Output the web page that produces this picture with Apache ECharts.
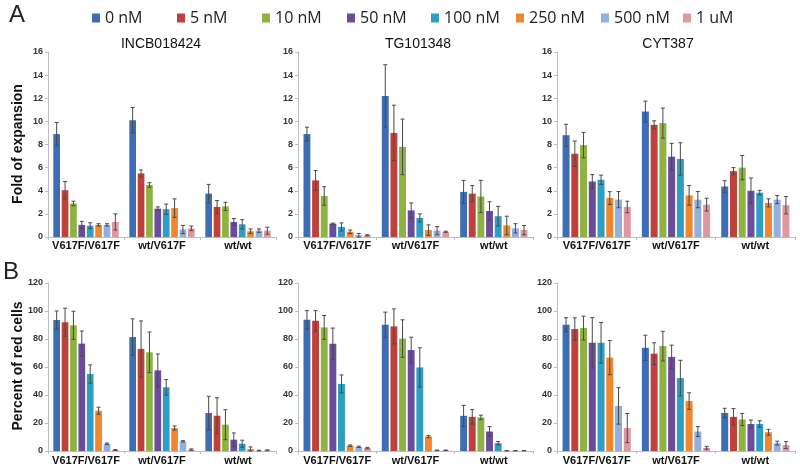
<!DOCTYPE html>
<html><head><meta charset="utf-8">
<script src="https://cdn.jsdelivr.net/npm/echarts@6/dist/echarts.min.js"></script>
<style>html,body{margin:0;padding:0;background:#fff}#c{width:800px;height:474px}</style>
</head><body><div id="c"></div>
<script>
const categories = ['V617F/V617F', 'wt/V617F', 'wt/wt'];
const seriesNames = ['0 nM', '5 nM', '10 nM', '50 nM', '100 nM', '250 nM', '500 nM', '1 uM'];
const drugs = ['INCB018424', 'TG101348', 'CYT387'];
const foldTicks = {min: 0, max: 16, interval: 2};
const redTicks = {min: 0, max: 120, interval: 20};

// rows = series (0 nM ... 1 uM), columns = categories
const foldINCB = [[8.9,10.1,3.75],[4.05,5.5,2.6],[2.9,4.5,2.65],[1.05,2.45,1.3],[0.98,2.4,1.1],[1.05,2.5,0.5],[1.05,0.65,0.55],[1.3,0.75,0.55]];
const foldINCBErr = [[1.0,1.1,0.8],[0.75,0.3,0.55],[0.2,0.2,0.35],[0.3,0.15,0.3],[0.25,0.45,0.4],[0.1,0.8,0.2],[0.1,0.35,0.15],[0.7,0.2,0.3]];
const foldTG = [[8.9,12.2,3.9],[4.9,9.0,3.75],[3.55,7.8,3.5],[1.15,2.3,2.25],[0.87,1.65,1.8],[0.45,0.6,1.0],[0.15,0.55,0.75],[0.15,0.45,0.6]];
const foldTGErr = [[0.6,2.7,1.0],[0.85,2.4,0.7],[0.8,2.4,1.4],[0.05,0.65,0.8],[0.35,0.35,0.85],[0.15,0.45,0.8],[0.15,0.35,0.4],[0.05,0.05,0.4]];
const foldCYT = [[8.8,10.85,4.37],[7.2,9.7,5.7],[7.95,9.85,6.0],[4.8,6.95,4.0],[4.95,6.75,3.83],[3.37,3.6,2.95],[3.23,3.23,3.23],[2.6,2.8,2.75]];
const foldCYTErr = [[0.95,0.9,0.5],[1.1,0.35,0.3],[1.1,1.3,1.05],[0.6,1.15,1.1],[0.4,1.4,0.2],[0.55,0.85,0.35],[0.7,0.7,0.35],[0.5,0.55,0.75]];
const redINCB = [[93.5,81.4,27.1],[92,72.9,25.2],[89.8,70.5,18.8],[76.7,57.6,8.1],[55,45.5,5.2],[28.8,16.4,1.4],[5.2,6.9,0.3],[0.7,1.0,0.5]];
const redINCBErr = [[6.5,13,12],[10,20,12.8],[10,14.5,10.7],[9,11.7,4.8],[6.5,5.5,2.5],[2.5,1.5,1.5],[0.5,0.5,0.2],[0.3,0.5,0.3]];
const redTG = [[93.7,90.2,25.1],[93,89,24.4],[88.3,80.3,24],[76.6,72.1,13.9],[47.9,59.7,5.6],[3.8,10.3,0.2],[3.0,0.5,0.2],[2.1,0.5,0.2]];
const redTGErr = [[6.6,9,7.5],[7.3,12.5,5.2],[8.5,13.4,1.6],[11.2,9.2,3.5],[6.4,14,1.2],[0.5,0.7,0.1],[0.5,0.2,0.1],[0.5,0.2,0.1]];
const redCYT = [[90.2,73.7,27.2],[87.1,69.5,24.4],[87.8,74.9,22.5],[77.3,67.2,19.3],[77.3,52.1,19.3],[66.7,35.7,13.4],[32.2,13.9,5.6],[16.4,2.3,4.2]];
const redCYTErr = [[5,9,3.3],[8,7.8,5.9],[8.5,10.6,4.3],[18,8.4,2.8],[14.5,12.7,2.3],[12.2,5.9,2.1],[13,3.5,1.4],[10.4,1,2.5]];

const colors = ['#3d6db5','#c0403c','#8db342','#6b4c9a','#2e9fc2','#f0872e','#93afe0','#e0989f'];
const CAT_GAP = 0.14, BAR_GAP = 0.25;

const panels = [
  {vals: foldINCB, err: foldINCBErr, ticks: foldTicks, grid: {left:48, top:52, width:228, height:185}},
  {vals: foldTG, err: foldTGErr, ticks: foldTicks, grid: {left:298, top:52, width:235, height:185}},
  {vals: foldCYT, err: foldCYTErr, ticks: foldTicks, grid: {left:557, top:52, width:238, height:185}},
  {vals: redINCB, err: redINCBErr, ticks: redTicks, grid: {left:48, top:283, width:228, height:168}},
  {vals: redTG, err: redTGErr, ticks: redTicks, grid: {left:298, top:283, width:235, height:168}},
  {vals: redCYT, err: redCYTErr, ticks: redTicks, grid: {left:557, top:283, width:238, height:168}}
];

function renderErr(params, api) {
  const cat = api.value(0), lo = api.value(1), hi = api.value(2), s = api.value(3);
  const n = seriesNames.length;
  const band = api.size([1, 0])[0];
  const remained = band * (1 - CAT_GAP);
  const bw = remained / (n + (n - 1) * BAR_GAP);
  const x0 = api.coord([cat, 0])[0];
  const cx = x0 - remained / 2 + s * bw * (1 + BAR_GAP) + bw / 2;
  const yHi = api.coord([cat, hi])[1], yLo = api.coord([cat, lo])[1];
  const cap = 2;
  const st = {stroke: '#4a4a4a', lineWidth: 1};
  return {type: 'group', children: [
    {type: 'line', shape: {x1: cx, y1: yHi, x2: cx, y2: yLo}, style: st},
    {type: 'line', shape: {x1: cx - cap, y1: yHi, x2: cx + cap, y2: yHi}, style: st},
    {type: 'line', shape: {x1: cx - cap, y1: yLo, x2: cx + cap, y2: yLo}, style: st}
  ]};
}

const grid = [], xAxis = [], yAxis = [], series = [];
panels.forEach((p, pi) => {
  grid.push(p.grid);
  xAxis.push({type: 'category', gridIndex: pi, data: categories,
    axisLine: {lineStyle: {color: '#bdbdbd'}}, axisTick: {show: true, length: 3, lineStyle: {color: '#bdbdbd'}},
    axisLabel: {interval: 0, color: '#111', fontWeight: 'bold', fontSize: 11, fontFamily: 'Liberation Sans, Arial', margin: pi < 3 ? 3 : 4}});
  yAxis.push({type: 'value', gridIndex: pi, min: p.ticks.min, max: p.ticks.max, interval: p.ticks.interval,
    splitLine: {show: false}, axisLine: {show: true, lineStyle: {color: '#bdbdbd'}},
    axisTick: {show: true, length: 3, lineStyle: {color: '#bdbdbd'}},
    axisLabel: {color: '#333', fontWeight: 'bold', fontSize: 9, fontFamily: 'Liberation Sans, Arial', margin: 5}});
  const errData = [];
  seriesNames.forEach((name, si) => {
    series.push({type: 'bar', name: name, xAxisIndex: pi, yAxisIndex: pi, data: p.vals[si],
      barCategoryGap: (CAT_GAP * 100) + '%', barGap: (BAR_GAP * 100) + '%',
      itemStyle: {color: colors[si]}, silent: true});
    p.vals[si].forEach((v, ci) => {
      const e = p.err[si][ci];
      errData.push([ci, Math.max(0, v - e), v + e, si]);
    });
  });
  series.push({type: 'custom', xAxisIndex: pi, yAxisIndex: pi, data: errData, renderItem: renderErr,
    encode: {x: 0, y: [1, 2]}, z: 5, silent: true});
});

const legendX = [87, 172, 257, 342, 426, 511, 596, 678];
const legend = seriesNames.map((name, i) => ({
  data: [name], left: legendX[i], top: 5, itemWidth: 8, itemHeight: 9, icon: 'rect', itemGap: 0,
  textStyle: {fontSize: 16, fontFamily: 'Open Sans', color: '#222', padding: [0, 0, 0, 0]},
  selectedMode: false
}));

const titleX = [161, 418, 668];
const graphic = [
  {type: 'text', left: 9, top: 3, style: {text: 'A', font: '24px "Liberation Sans", Arial', fill: '#222'}},
  {type: 'text', left: 3, top: 260, style: {text: 'B', font: '24px "Liberation Sans", Arial', fill: '#222'}},
  {type: 'text', x: 18, y: 144, rotation: Math.PI / 2, style: {text: 'Fold of expansion', font: 'bold 14px "Liberation Sans", Arial', fill: '#111', align: 'center', verticalAlign: 'middle'}},
  {type: 'text', x: 18, y: 366, rotation: Math.PI / 2, style: {text: 'Percent of red cells', font: 'bold 14px "Liberation Sans", Arial', fill: '#111', align: 'center', verticalAlign: 'middle'}}
].concat(drugs.map((d, i) => ({type: 'text', x: titleX[i], y: 44,
  style: {text: d, font: '14px "Liberation Sans", Arial', fill: '#111', align: 'center', verticalAlign: 'middle'}})));

const chart = echarts.init(document.getElementById('c'), null, {renderer: 'canvas'});
chart.setOption({animation: false, backgroundColor: '#fff', legend, grid, xAxis, yAxis, series, graphic});
</script></body></html>
